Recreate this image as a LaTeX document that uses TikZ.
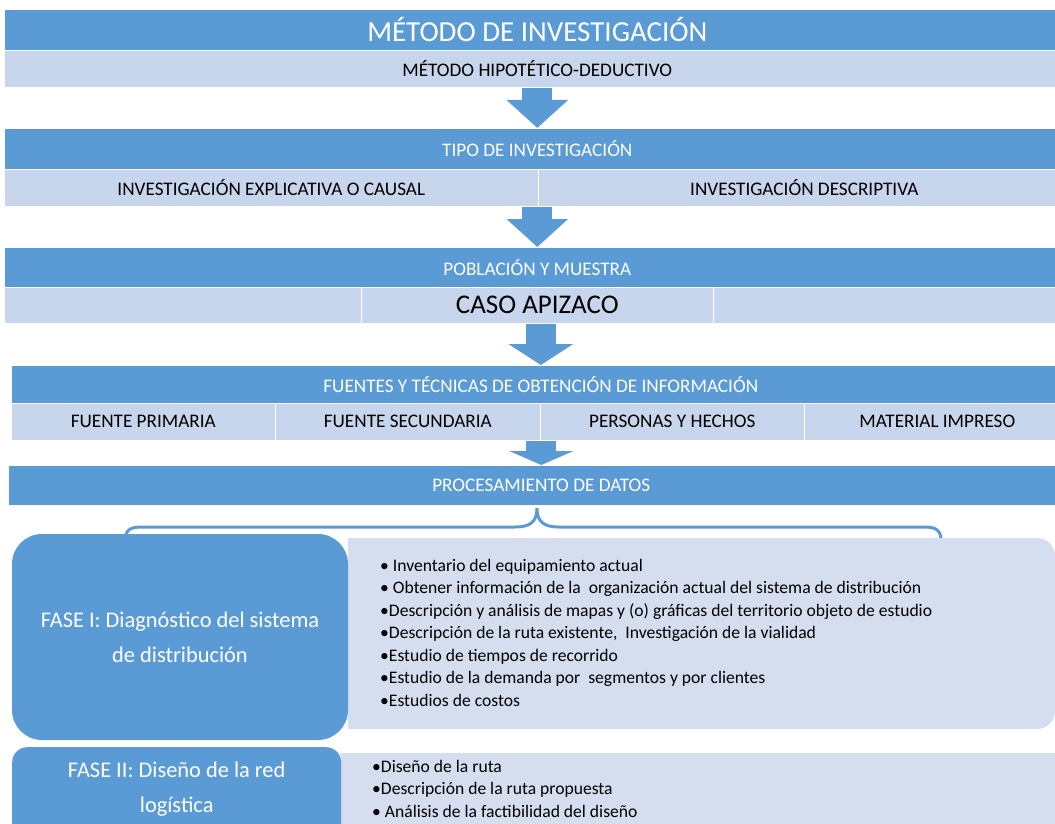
\documentclass[tikz,border=0pt]{standalone}
\usepackage{fontspec}
\setmainfont{Carlito}
\usepackage{tikz}
\usetikzlibrary{positioning, calc, arrows.meta}
\definecolor{bandblue}{HTML}{5B9BD5}
\definecolor{rowblue}{HTML}{C7D6EC}
\definecolor{listblue}{HTML}{D4DEEF}

\begin{document}
\begin{tikzpicture}[x=1pt, y=-1pt,
    band/.style={fill=bandblue, draw=white, line width=0.6pt, text=white, anchor=north west, inner sep=0pt, font=\fontsize{19.2}{22}\selectfont},
    cell/.style={fill=rowblue, draw=white, line width=0.6pt, anchor=north west, inner sep=0pt, font=\fontsize{19.2}{22}\selectfont},
    flow/.style={bandblue, line width=30pt, -{Triangle[width=60pt, length=28pt]}},
    phase/.style={fill=bandblue, text=white, rounded corners=30pt, align=center, inner sep=0pt, font=\fontsize{22.4}{35}\selectfont},
    items/.style={anchor=north west, align=left, inner sep=0pt, font=\fontsize{17.6}{22.5}\selectfont}]

    \useasboundingbox (0,0) rectangle (1055,824);
    \clip (0,0) rectangle (1055,824);

    % Method of research
    \node[band, minimum width=1066, minimum height=41, font=\fontsize{29}{32}\selectfont] (metodo) at (4,9) {MÉTODO DE INVESTIGACIÓN};
    \node[cell, minimum width=1066, minimum height=37] (hipotetico) at (4,50) {MÉTODO HIPOTÉTICO-DEDUCTIVO};

    % Type of research: two cells
    \node[band, minimum width=1066, minimum height=41] (tipo) at (4,128) {TIPO DE INVESTIGACIÓN};
    \draw[flow] (hipotetico.south) -- (tipo.north);
    \node[cell, minimum width=534, minimum height=37] (explicativa) at (4,169) {INVESTIGACIÓN EXPLICATIVA O CAUSAL};
    \node[cell, minimum width=532, minimum height=37] (descriptiva) at (538,169) {INVESTIGACIÓN DESCRIPTIVA};

    % Population and sample
    \node[band, minimum width=1066, minimum height=40] (poblacion) at (4,247) {POBLACIÓN Y MUESTRA};
    \draw[flow] (poblacion.north |- explicativa.south) -- (poblacion.north);
    \node[cell, minimum width=357, minimum height=36] (casoizq) at (4,287) {};
    \node[cell, minimum width=352, minimum height=36, font=\fontsize{27}{30}\selectfont] (caso) at (361,287) {CASO APIZACO};
    \node[cell, minimum width=357, minimum height=36] (casoder) at (713,287) {};

    % Sources and techniques: four cells
    \node[band, minimum width=1059, minimum height=38] (fuentes) at (11,365) {FUENTES Y TÉCNICAS DE OBTENCIÓN DE INFORMACIÓN};
    \draw[flow, -{Triangle[width=64pt, length=21pt]}] (fuentes.north |- caso.south) -- (fuentes.north);
    \node[cell, minimum width=264, minimum height=37] (primaria) at (11,403) {FUENTE PRIMARIA};
    \node[cell, minimum width=265, minimum height=37] (secundaria) at (275,403) {FUENTE SECUNDARIA};
    \node[cell, minimum width=264, minimum height=37] (personas) at (540,403) {PERSONAS Y HECHOS};
    \node[cell, minimum width=266, minimum height=37] (impreso) at (804,403) {MATERIAL IMPRESO};

    % Data processing
    \node[band, minimum width=1066, minimum height=40] (procesamiento) at (8,465) {PROCESAMIENTO DE DATOS};
    \draw[flow, -{Triangle[width=64pt, length=14pt]}] (procesamiento.north |- personas.south) -- (procesamiento.north);

    % Brace under the processing band
    \draw[bandblue, line width=3pt, line cap=round]
        (125,541) .. controls (125,530) and (130,527) .. (142,527) -- (515,527)
        .. controls (530,527) and (537,522) .. (537,508)
        .. controls (537,522) and (544,527) .. (559,527) -- (924,527)
        .. controls (936,527) and (941,530) .. (941,541);

    % Phase I
    \fill[listblue] (348,538) -- (1037,538) .. controls (1047,538) and (1055,546) .. (1055,556)
        -- (1055,711) .. controls (1055,721) and (1047,729) .. (1037,729) -- (348,729) -- cycle;
    \node[phase, minimum width=336, minimum height=206] (fase1) at (180,637) {FASE I: Diagnóstico del sistema\\de distribución};
    \node[items] (lista1) at (380,559) {• Inventario del equipamiento actual\\
        • Obtener información de la\ \ organización actual del sistema de distribución\\
        •Descripción y análisis de mapas y (o) gráficas del territorio objeto de estudio\\
        •Descripción de la ruta existente,\ \ Investigación de la vialidad\\
        •Estudio de tiempos de recorrido\\
        •Estudio de la demanda por\ \ segmentos y por clientes\\
        •Estudios de costos};

    % Phase II
    \fill[listblue] (341,753) rectangle (1060,870);
    \node[phase, minimum width=329, minimum height=120, rounded corners=15pt, anchor=north west] (fase2) at (12,747) {};
    \node[phase, fill=none] (fase2texto) at ($(fase2.north)+(0,42)$) {FASE II: Diseño de la red\\logística};
    \node[items] (lista2) at (372,760) {•Diseño de la ruta\\
        •Descripción de la ruta propuesta\\
        • Análisis de la factibilidad del diseño};

\end{tikzpicture}
\end{document}
